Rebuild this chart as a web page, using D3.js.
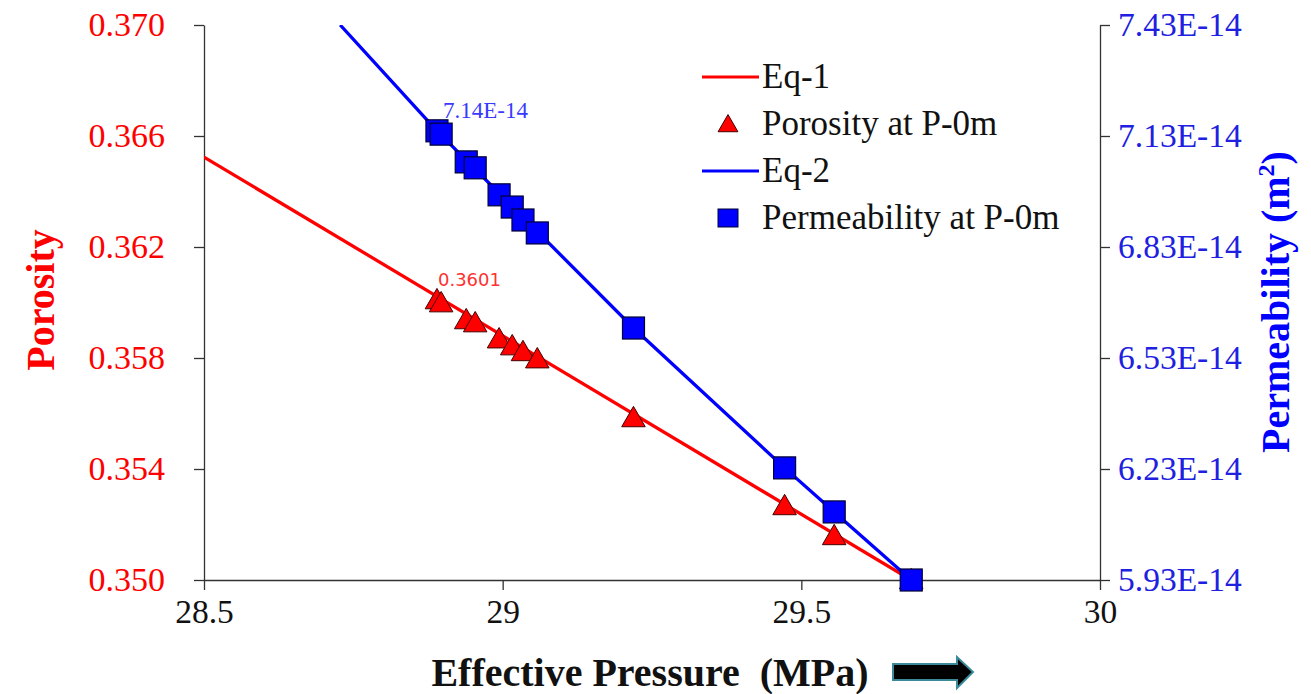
<!DOCTYPE html>
<html>
<head>
<meta charset="utf-8">
<script src="https://cdn.jsdelivr.net/npm/d3@7"></script>
<style>
    body { margin: 0; background: #fff; }
    svg { display: block; }
</style>
</head>
<body>
<svg class="chart"></svg>
<script>
(function () {
    // Effective pressure (MPa), shared by both series
    const pressure = [28.890, 28.897, 28.939, 28.954, 28.994, 29.016, 29.034, 29.058, 29.219, 29.472, 29.555, 29.684];
    // Porosity at P-0m
    const porosity = [0.36009, 0.35998, 0.35937, 0.35926, 0.35868, 0.35843, 0.35822, 0.35796, 0.35584, 0.35267, 0.35159, 0.35000];
    // Permeability at P-0m (x 1E-14 m2)
    const permeability = [7.144, 7.135, 7.060, 7.044, 6.971, 6.938, 6.903, 6.868, 6.611, 6.233, 6.114, 5.930];

    // Eq-1 (straight fit) and Eq-2 (curved fit)
    const eq1P = [28.5, 29.684];
    const eq1Phi = [0.36524, 0.35000];
    const eq2P = [28.728, 28.890, 29.219, 29.472, 29.555, 29.684];
    const eq2K = [7.430, 7.144, 6.611, 6.233, 6.114, 5.930];

    const xTicks = [28.5, 29, 29.5, 30];
    const yLeftTicks = [0.350, 0.354, 0.358, 0.362, 0.366, 0.370];
    const yRightTicks = [5.93, 6.23, 6.53, 6.83, 7.13, 7.43];

    const width = 1311, height = 694;
    const margin = { left: 204, top: 25, right: 211, bottom: 114 };
    const innerW = width - margin.left - margin.right;
    const innerH = height - margin.top - margin.bottom;

    const red = "#ff0000", blue = "#0000ff";
    const serif = "'Liberation Serif', 'Times New Roman', Times, 'DejaVu Serif', serif";

    let svg = d3.select("svg.chart")
        .attr("width", width)
        .attr("height", height);

    let x = d3.scaleLinear().domain([28.5, 30]).range([0, innerW]);
    let yL = d3.scaleLinear().domain([0.350, 0.370]).range([innerH, 0]);
    let yR = d3.scaleLinear().domain([5.93, 7.43]).range([innerH, 0]);

    let g = svg.append("g").attr("transform", "translate(" + margin.left + "," + margin.top + ")");

    svg.append("defs").append("clipPath").attr("id", "plot-clip")
        .append("rect").attr("width", innerW).attr("height", innerH);

    // Axes
    let xAxis = g.append("g")
        .attr("transform", "translate(0," + innerH + ")")
        .call(d3.axisBottom(x).tickValues(xTicks).tickFormat(d3.format("")).tickSize(10).tickSizeOuter(0).tickPadding(9));

    let leftAxis = g.append("g")
        .call(d3.axisLeft(yL).tickValues(yLeftTicks).tickFormat(d3.format(".3f")).tickSize(10).tickSizeOuter(0).tickPadding(29));

    let rightAxis = g.append("g")
        .attr("transform", "translate(" + innerW + ",0)")
        .call(d3.axisRight(yR).tickValues(yRightTicks).tickFormat(function (d) { return d3.format(".2f")(d) + "E-14"; }).tickSize(10).tickSizeOuter(0).tickPadding(8));

    [xAxis, leftAxis, rightAxis].forEach(function (a) {
        a.attr("font-family", null).attr("font-size", null);
        a.selectAll("text").attr("font-family", serif).attr("font-size", 33.5);
    });
    xAxis.selectAll("text").attr("fill", "#111");
    leftAxis.selectAll("text").attr("fill", red).attr("font-size", 34);
    rightAxis.selectAll("text").attr("fill", "#2020e0");

    svg.selectAll(".domain, .tick line").attr("stroke", "#333").attr("stroke-width", 1.3);

    // Lines
    let plot = g.append("g").attr("clip-path", "url(#plot-clip)");

    plot.append("path")
        .datum(d3.zip(eq1P, eq1Phi))
        .attr("fill", "none")
        .attr("stroke", red)
        .attr("stroke-width", 3.3)
        .attr("d", d3.line().x(function (d) { return x(d[0]); }).y(function (d) { return yL(d[1]); }));

    plot.append("path")
        .datum(d3.zip(eq2P, eq2K))
        .attr("fill", "none")
        .attr("stroke", blue)
        .attr("stroke-width", 3.3)
        .attr("d", d3.line().x(function (d) { return x(d[0]); }).y(function (d) { return yR(d[1]); }));

    // Markers
    const tri = d3.symbol().type(d3.symbolTriangle).size(240);
    g.selectAll(".tri")
        .data(d3.zip(pressure, porosity))
        .enter().append("path")
        .attr("class", "tri")
        .attr("d", tri)
        .attr("transform", function (d) { return "translate(" + x(d[0]) + "," + (yL(d[1]) + 2) + ")"; })
        .attr("fill", red)
        .attr("stroke", "#400")
        .attr("stroke-width", 1);

    const sq = 22;
    g.selectAll(".sq")
        .data(d3.zip(pressure, permeability))
        .enter().append("rect")
        .attr("class", "sq")
        .attr("x", function (d) { return x(d[0]) - sq / 2; })
        .attr("y", function (d) { return yR(d[1]) - sq / 2; })
        .attr("width", sq)
        .attr("height", sq)
        .attr("fill", blue)
        .attr("stroke", "#000033")
        .attr("stroke-width", 1.2);

    // Data labels
    g.append("text")
        .attr("x", x(pressure[0]) + 6)
        .attr("y", yR(permeability[0]) - 13)
        .attr("fill", "#3a3aff")
        .attr("font-family", serif)
        .attr("font-size", 23)
        .text(d3.format(".2f")(permeability[0]) + "E-14");

    g.append("text")
        .attr("x", x(pressure[0]) + 1)
        .attr("y", yL(porosity[0]) - 14)
        .attr("fill", "#ff3030")
        .attr("font-family", "'DejaVu Sans', Verdana, sans-serif")
        .attr("font-size", 18)
        .text(d3.format(".4f")(porosity[0]));

    // Legend
    const legendItems = [
        { label: "Eq-1", kind: "line", color: red },
        { label: "Porosity at P-0m", kind: "tri", color: red },
        { label: "Eq-2", kind: "line", color: blue },
        { label: "Permeability at P-0m", kind: "sq", color: blue }
    ];
    let legend = svg.append("g").attr("transform", "translate(700,77)");
    let item = legend.selectAll("g")
        .data(legendItems)
        .enter().append("g")
        .attr("transform", function (d, i) { return "translate(0," + i * 47 + ")"; });

    item.filter(function (d) { return d.kind == "line"; })
        .append("line")
        .attr("x1", 2).attr("x2", 59).attr("y1", 0).attr("y2", 0)
        .attr("stroke", function (d) { return d.color; })
        .attr("stroke-width", 3);
    item.filter(function (d) { return d.kind == "tri"; })
        .append("path")
        .attr("d", d3.symbol().type(d3.symbolTriangle).size(170))
        .attr("transform", "translate(28,2)")
        .attr("fill", red).attr("stroke", "#400");
    item.filter(function (d) { return d.kind == "sq"; })
        .append("rect")
        .attr("x", 18).attr("y", -9).attr("width", 20).attr("height", 18)
        .attr("fill", blue).attr("stroke", "#000033");
    item.append("text")
        .attr("x", 62)
        .attr("y", 11)
        .attr("font-family", serif)
        .attr("font-size", 35)
        .attr("fill", "#111")
        .text(function (d) { return d.label; });

    // Axis titles
    svg.append("text")
        .attr("transform", "translate(54,300) rotate(-90)")
        .attr("text-anchor", "middle")
        .attr("fill", red)
        .attr("font-family", serif)
        .attr("font-weight", "bold")
        .attr("font-size", 40)
        .text("Porosity");

    let permTitle = svg.append("text")
        .attr("transform", "translate(1289,302) rotate(-90)")
        .attr("text-anchor", "middle")
        .attr("fill", blue)
        .attr("font-family", serif)
        .attr("font-weight", "bold")
        .attr("font-size", 40);
    permTitle.append("tspan").text("Permeability (m");
    permTitle.append("tspan").attr("dy", -15).attr("font-size", 24).text("2");
    permTitle.append("tspan").attr("dy", 15).text(")");

    svg.append("text")
        .attr("x", 650)
        .attr("y", 686)
        .attr("text-anchor", "middle")
        .attr("fill", "#111")
        .attr("font-family", serif)
        .attr("font-weight", "bold")
        .attr("font-size", 40)
        .style("white-space", "pre")
        .text("Effective Pressure  (MPa)");

    // Arrow next to the x title
    svg.append("path")
        .attr("d", "M893,664 L957,664 L957,657 L973,672 L957,688 L957,680 L893,680 Z")
        .attr("fill", "#000")
        .attr("stroke", "#3a8a9a")
        .attr("stroke-width", 2);
}());
</script>
</body>
</html>
